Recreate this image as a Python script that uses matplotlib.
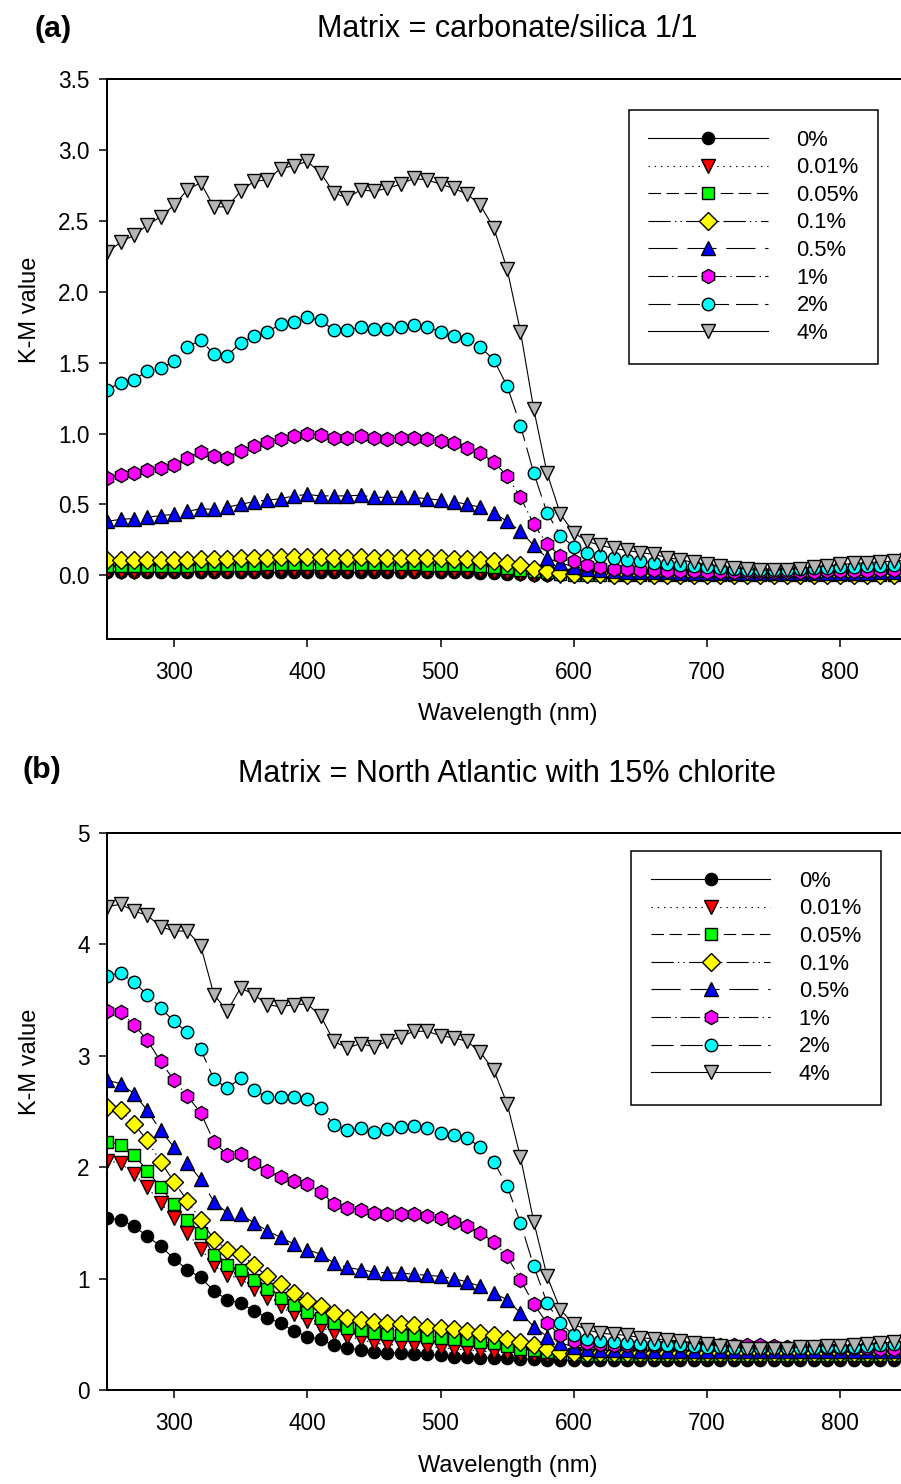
import numpy as np
import matplotlib
matplotlib.use("Agg")
import matplotlib.pyplot as plt

plt.rcParams['font.family'] = ['Liberation Sans', 'DejaVu Sans']
plt.rcParams['lines.scale_dashes'] = False

wavelength = np.arange(250, 851, 10)
labels = ['0%', '0.01%', '0.05%', '0.1%', '0.5%', '1%', '2%', '4%']

# panel (a): carbonate/silica 1/1 matrix
a_0 = [0.02, 0.02, 0.02, 0.02, 0.02, 0.02, 0.02, 0.02, 0.02, 0.02,
       0.02, 0.02, 0.02, 0.02, 0.02, 0.02, 0.02, 0.02, 0.02, 0.02,
       0.02, 0.02, 0.02, 0.02, 0.02, 0.02, 0.02, 0.02, 0.018, 0.015,
       0.012, 0.008, 0.005, 0.003, 0.0, 0.0, 0.0, 0.0, 0.0, 0.0,
       0.0, 0.0, 0.0, 0.0, 0.0, 0.0, 0.0, 0.0, 0.0, 0.0,
       0.0, 0.0, 0.0, 0.0, 0.0, 0.0, 0.0, 0.0, 0.0, 0.0, 0.0]
a_001 = [0.025, 0.026, 0.026, 0.027, 0.027, 0.028, 0.029, 0.03, 0.03, 0.031,
         0.032, 0.033, 0.034, 0.034, 0.035, 0.035, 0.035, 0.034, 0.034, 0.034,
         0.034, 0.034, 0.033, 0.033, 0.033, 0.032, 0.031, 0.03, 0.027, 0.022,
         0.016, 0.01, 0.005, 0.0, -0.003, -0.005, -0.005, -0.005, -0.005, -0.005,
         -0.005, -0.005, -0.005, -0.005, -0.005, -0.005, -0.005, -0.005, -0.005, -0.005,
         -0.005, -0.005, -0.005, -0.005, -0.005, -0.005, -0.005, -0.005, -0.005, -0.005, -0.005]
a_005 = [0.064, 0.065, 0.066, 0.066, 0.066, 0.067, 0.068, 0.07, 0.07, 0.071,
         0.073, 0.075, 0.076, 0.077, 0.078, 0.08, 0.079, 0.078, 0.078, 0.078,
         0.077, 0.077, 0.076, 0.076, 0.075, 0.074, 0.072, 0.07, 0.066, 0.06,
         0.05, 0.04, 0.03, 0.02, 0.01, 0.005, 0.003, 0.002, 0.002, 0.002,
         0.002, 0.002, 0.002, 0.002, 0.002, 0.002, 0.002, 0.002, 0.002, 0.002,
         0.002, 0.002, 0.002, 0.002, 0.002, 0.002, 0.002, 0.002, 0.002, 0.002, 0.002]
a_01 = [0.105, 0.108, 0.108, 0.108, 0.105, 0.105, 0.11, 0.115, 0.113, 0.113,
        0.12, 0.122, 0.124, 0.126, 0.127, 0.128, 0.127, 0.125, 0.125, 0.126,
        0.125, 0.124, 0.124, 0.124, 0.122, 0.12, 0.117, 0.113, 0.108, 0.1,
        0.087, 0.07, 0.047, 0.028, 0.015, 0.01, 0.008, 0.006, 0.005, 0.005,
        0.005, 0.005, 0.005, 0.005, 0.005, 0.005, 0.005, 0.005, 0.005, 0.005,
        0.005, 0.005, 0.005, 0.005, 0.005, 0.005, 0.005, 0.005, 0.005, 0.005, 0.005]
a_05 = [0.38, 0.395, 0.40, 0.41, 0.42, 0.43, 0.45, 0.47, 0.465, 0.48,
        0.50, 0.52, 0.53, 0.54, 0.56, 0.57, 0.56, 0.56, 0.56, 0.565,
        0.55, 0.55, 0.55, 0.55, 0.54, 0.53, 0.52, 0.50, 0.48, 0.44,
        0.38, 0.31, 0.21, 0.12, 0.087, 0.06, 0.045, 0.035, 0.03, 0.026,
        0.024, 0.022, 0.02, 0.018, 0.017, 0.016, 0.015, 0.014, 0.013, 0.013,
        0.013, 0.013, 0.014, 0.015, 0.016, 0.017, 0.018, 0.019, 0.02, 0.021, 0.022]
a_1 = [0.685, 0.71, 0.72, 0.74, 0.76, 0.78, 0.83, 0.87, 0.84, 0.83,
       0.88, 0.91, 0.94, 0.96, 0.98, 1.00, 0.99, 0.97, 0.97, 0.98,
       0.97, 0.96, 0.97, 0.97, 0.96, 0.95, 0.93, 0.90, 0.86, 0.80,
       0.70, 0.55, 0.36, 0.22, 0.135, 0.10, 0.07, 0.057, 0.047, 0.042,
       0.038, 0.035, 0.032, 0.03, 0.028, 0.026, 0.024, 0.022, 0.021, 0.02,
       0.02, 0.021, 0.023, 0.025, 0.027, 0.029, 0.031, 0.033, 0.035, 0.036, 0.037]
a_2 = [1.31, 1.36, 1.38, 1.44, 1.46, 1.51, 1.61, 1.66, 1.56, 1.55,
       1.64, 1.69, 1.72, 1.77, 1.79, 1.82, 1.80, 1.73, 1.73, 1.75,
       1.74, 1.74, 1.75, 1.765, 1.75, 1.72, 1.69, 1.67, 1.61, 1.52,
       1.335, 1.056, 0.72, 0.44, 0.28, 0.20, 0.154, 0.135, 0.123, 0.106,
       0.099, 0.087, 0.078, 0.07, 0.062, 0.056, 0.05, 0.045, 0.04, 0.038,
       0.038, 0.04, 0.044, 0.048, 0.052, 0.056, 0.06, 0.063, 0.066, 0.07, 0.072]
a_4 = [2.28, 2.35, 2.40, 2.47, 2.53, 2.61, 2.72, 2.77, 2.60, 2.60,
       2.71, 2.78, 2.79, 2.87, 2.89, 2.92, 2.84, 2.70, 2.66, 2.72,
       2.71, 2.73, 2.76, 2.80, 2.79, 2.76, 2.73, 2.69, 2.61, 2.45,
       2.16, 1.72, 1.17, 0.72, 0.43, 0.30, 0.24, 0.21, 0.19, 0.175,
       0.16, 0.147, 0.125, 0.11, 0.09, 0.076, 0.064, 0.052, 0.042, 0.035,
       0.035, 0.040, 0.047, 0.057, 0.064, 0.076, 0.083, 0.088, 0.095, 0.10, 0.105]

# panel (b): North Atlantic matrix with 15% chlorite
b_0 = [1.54, 1.53, 1.47, 1.38, 1.29, 1.18, 1.08, 1.01, 0.89, 0.81,
       0.78, 0.71, 0.65, 0.60, 0.53, 0.48, 0.455, 0.40, 0.38, 0.36,
       0.34, 0.335, 0.33, 0.325, 0.32, 0.31, 0.30, 0.30, 0.29, 0.29,
       0.285, 0.28, 0.275, 0.27, 0.27, 0.265, 0.265, 0.265, 0.265, 0.265,
       0.265, 0.265, 0.265, 0.265, 0.265, 0.265, 0.265, 0.265, 0.265, 0.265,
       0.265, 0.265, 0.265, 0.265, 0.265, 0.265, 0.265, 0.265, 0.265, 0.265, 0.265]
b_001 = [2.06, 2.035, 1.94, 1.82, 1.68, 1.54, 1.41, 1.27, 1.12, 1.03,
         1.00, 0.91, 0.83, 0.75, 0.68, 0.62, 0.57, 0.51, 0.48, 0.455,
         0.42, 0.41, 0.40, 0.40, 0.39, 0.38, 0.37, 0.36, 0.35, 0.34,
         0.33, 0.32, 0.31, 0.305, 0.30, 0.295, 0.295, 0.295, 0.295, 0.295,
         0.29, 0.29, 0.29, 0.29, 0.29, 0.29, 0.29, 0.29, 0.29, 0.29,
         0.29, 0.29, 0.29, 0.29, 0.29, 0.29, 0.29, 0.29, 0.29, 0.29, 0.29]
b_005 = [2.23, 2.20, 2.11, 1.97, 1.82, 1.67, 1.53, 1.41, 1.21, 1.12,
         1.08, 0.99, 0.91, 0.83, 0.76, 0.70, 0.65, 0.60, 0.56, 0.54,
         0.51, 0.50, 0.49, 0.49, 0.48, 0.47, 0.46, 0.45, 0.43, 0.42,
         0.395, 0.37, 0.355, 0.34, 0.33, 0.32, 0.315, 0.315, 0.31, 0.31,
         0.31, 0.31, 0.31, 0.31, 0.31, 0.31, 0.31, 0.31, 0.31, 0.31,
         0.31, 0.31, 0.31, 0.31, 0.31, 0.31, 0.31, 0.31, 0.31, 0.31, 0.31]
b_01 = [2.54, 2.51, 2.39, 2.24, 2.05, 1.87, 1.70, 1.53, 1.35, 1.26,
        1.22, 1.12, 1.02, 0.95, 0.87, 0.80, 0.75, 0.69, 0.65, 0.63,
        0.61, 0.60, 0.59, 0.58, 0.57, 0.56, 0.55, 0.53, 0.51, 0.49,
        0.46, 0.43, 0.40, 0.37, 0.34, 0.33, 0.33, 0.33, 0.33, 0.33,
        0.33, 0.33, 0.33, 0.33, 0.33, 0.33, 0.33, 0.33, 0.33, 0.33,
        0.33, 0.33, 0.33, 0.33, 0.33, 0.33, 0.33, 0.33, 0.33, 0.33, 0.33]
b_05 = [2.78, 2.75, 2.66, 2.51, 2.33, 2.18, 2.04, 1.89, 1.69, 1.59,
        1.58, 1.50, 1.43, 1.37, 1.31, 1.26, 1.22, 1.14, 1.10, 1.08,
        1.06, 1.05, 1.05, 1.04, 1.03, 1.02, 1.00, 0.97, 0.93, 0.87,
        0.81, 0.69, 0.57, 0.48, 0.42, 0.39, 0.37, 0.36, 0.355, 0.355,
        0.35, 0.35, 0.35, 0.35, 0.35, 0.35, 0.35, 0.35, 0.35, 0.35,
        0.35, 0.35, 0.35, 0.35, 0.35, 0.35, 0.35, 0.35, 0.35, 0.35, 0.35]
b_1 = [3.40, 3.39, 3.28, 3.14, 2.95, 2.78, 2.64, 2.49, 2.23, 2.11,
       2.12, 2.04, 1.97, 1.91, 1.88, 1.85, 1.78, 1.67, 1.63, 1.62,
       1.59, 1.58, 1.58, 1.58, 1.56, 1.54, 1.51, 1.47, 1.41, 1.33,
       1.20, 0.99, 0.77, 0.60, 0.49, 0.44, 0.42, 0.41, 0.40, 0.40,
       0.40, 0.40, 0.40, 0.40, 0.40, 0.40, 0.40, 0.40, 0.40, 0.40,
       0.395, 0.39, 0.39, 0.385, 0.38, 0.38, 0.375, 0.375, 0.37, 0.37, 0.37]
b_2 = [3.72, 3.74, 3.66, 3.55, 3.43, 3.31, 3.21, 3.06, 2.79, 2.71,
       2.80, 2.69, 2.63, 2.63, 2.63, 2.61, 2.53, 2.38, 2.33, 2.35,
       2.32, 2.34, 2.36, 2.37, 2.35, 2.31, 2.29, 2.26, 2.18, 2.05,
       1.83, 1.50, 1.11, 0.78, 0.60, 0.49, 0.46, 0.44, 0.43, 0.42,
       0.41, 0.41, 0.40, 0.40, 0.395, 0.39, 0.385, 0.38, 0.375, 0.375,
       0.375, 0.375, 0.38, 0.38, 0.385, 0.39, 0.39, 0.395, 0.40, 0.41, 0.41]
b_4 = [4.34, 4.36, 4.30, 4.26, 4.16, 4.12, 4.12, 3.99, 3.55, 3.40,
       3.61, 3.55, 3.46, 3.44, 3.46, 3.465, 3.36, 3.13, 3.07, 3.11,
       3.08, 3.13, 3.17, 3.22, 3.22, 3.18, 3.16, 3.13, 3.03, 2.87,
       2.57, 2.09, 1.51, 1.02, 0.72, 0.59, 0.54, 0.51, 0.50, 0.49,
       0.47, 0.46, 0.45, 0.44, 0.42, 0.41, 0.395, 0.39, 0.37, 0.37,
       0.37, 0.37, 0.385, 0.39, 0.395, 0.395, 0.40, 0.41, 0.42, 0.43, 0.44]

series_a = [a_0, a_001, a_005, a_01, a_05, a_1, a_2, a_4]
series_b = [b_0, b_001, b_005, b_01, b_05, b_1, b_2, b_4]

markers = ['o', 'v', 's', 'D', '^', 'h', 'o', 'v']
msizes = [8.8, 9.8, 8.5, 9.0, 9.8, 10.2, 9.0, 9.8]
colors = ['black', 'red', '#00ff00', 'yellow', 'blue', 'magenta', 'cyan', '#b4b4b4']
styles = ['-', (0, (1.0, 3.5)), (0, (9, 4)), (0, (16, 3, 1, 3, 1, 3)),
          (0, (21, 7)), (0, (14, 3, 1, 3)), (0, (16, 5)), '-']

W, H = 901, 1484
fig = plt.figure(figsize=(W / 100, H / 100), dpi=100)

def px(x, y):
    return x / W, 1 - y / H

def panel(top, bottom, series, ylim, yticks, yfmt, leg_xy):
    x0, y1 = px(107.3, top)
    _, y0 = px(0, bottom)
    ax = fig.add_axes([x0, y0, (907 - 107.3) / W, y1 - y0])
    for vals, lab, m, ms, c, ls in zip(series, labels, markers, msizes, colors, styles):
        ax.plot(wavelength, vals, linestyle=ls, color='black', lw=0.8,
                marker=m, ms=ms, mfc=c, mec='black', mew=1.0, label=lab)
    ax.set_xlim(250, 850)
    ax.set_ylim(*ylim)
    ax.set_xticks([300, 400, 500, 600, 700, 800])
    ax.set_yticks(yticks)
    ax.set_yticklabels([yfmt.format(t) for t in yticks])
    ax.tick_params(direction='out', length=5.8, width=1.1, labelsize=16.3,
                   top=False, right=False)
    ax.tick_params(axis='x', pad=10)
    ax.tick_params(axis='y', pad=7)
    for sp in ax.spines.values():
        sp.set_linewidth(1.45)
    leg = ax.legend(loc='upper left', bbox_to_anchor=px(*leg_xy),
                    bbox_transform=fig.transFigure, borderaxespad=0,
                    fontsize=15.8, handlelength=5.45, handletextpad=1.3,
                    borderpad=0.9, labelspacing=0.3, numpoints=1,
                    fancybox=False, framealpha=1, edgecolor='black')
    leg.get_frame().set_linewidth(1.1)
    return ax

panel(79.3, 639, series_a, (-0.45, 3.5), [0, 0.5, 1.0, 1.5, 2.0, 2.5, 3.0, 3.5],
      '{:.1f}', (628.5, 110))
panel(833, 1390, series_b, (0, 5), [0, 1, 2, 3, 4, 5], '{:.0f}', (631, 851))

fig.text(*px(35, 29), '(a)', fontsize=21.8, fontweight='bold', va='center', ha='left')
fig.text(*px(507, 36.7), 'Matrix = carbonate/silica 1/1', fontsize=22,
         va='baseline', ha='center')
fig.text(*px(22, 770), '(b)', fontsize=21.8, fontweight='bold', va='center', ha='left')
fig.text(*px(507, 782), 'Matrix = North Atlantic with 15% chlorite', fontsize=22,
         va='baseline', ha='center')

for yc in (310, 1062):
    fig.text(*px(30, yc), 'K-M value', fontsize=17, rotation=90,
             va='center', ha='center')
fig.text(*px(508, 714), 'Wavelength (nm)', fontsize=17, va='center', ha='center')
fig.text(*px(508, 1466), 'Wavelength (nm)', fontsize=17, va='center', ha='center')

fig.savefig('out.png', dpi=100)
